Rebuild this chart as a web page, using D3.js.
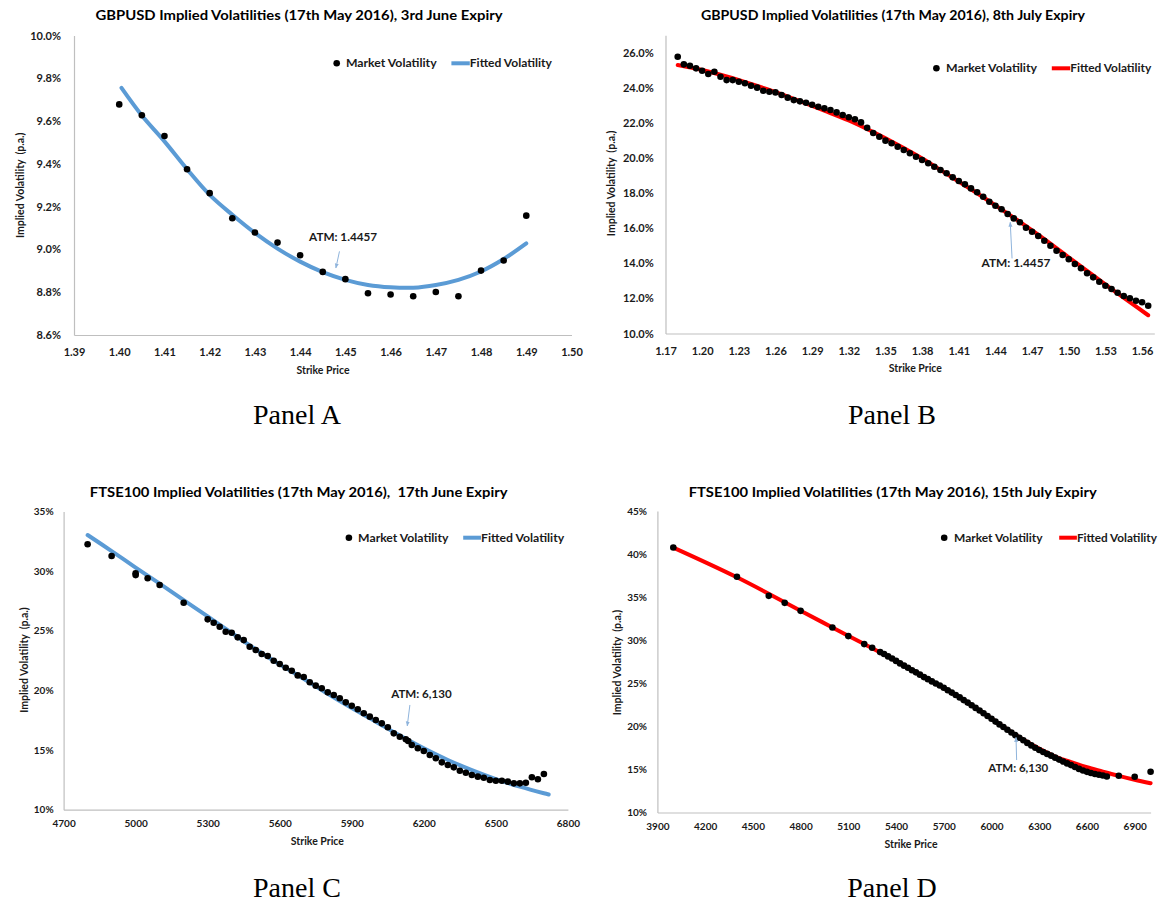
<!DOCTYPE html>
<html>
<head>
<meta charset="utf-8">
<script src="https://cdn.jsdelivr.net/npm/d3@7"></script>
<style>
  body { margin: 0; background: #fff; }
  text { font-family: Lato, "Open Sans", sans-serif; }
</style>
</head>
<body>
<svg id="chart" width="1158" height="902"></svg>
<script>
// ---- Panel A : GBPUSD, 3rd June expiry ----
const strikeA = [1.400, 1.405, 1.410, 1.415, 1.420, 1.425, 1.430, 1.435, 1.440, 1.445,
  1.450, 1.455, 1.460, 1.465, 1.470, 1.475, 1.480, 1.485, 1.490];
const marketA = [9.678, 9.627, 9.530, 9.375, 9.263, 9.146, 9.079, 9.032, 8.973, 8.895,
  8.861, 8.795, 8.789, 8.781, 8.801, 8.781, 8.901, 8.948, 9.158];
const fitStrikeA = [1.4005, 1.405, 1.410, 1.415, 1.420, 1.425, 1.430, 1.435, 1.440, 1.445,
  1.450, 1.455, 1.460, 1.465, 1.470, 1.475, 1.480, 1.485, 1.490];
const fitA = [9.755, 9.626, 9.505, 9.375, 9.255, 9.162, 9.077, 9.004, 8.943, 8.894,
  8.858, 8.834, 8.823, 8.821, 8.834, 8.858, 8.897, 8.955, 9.028];
const xTicksA = [1.39, 1.40, 1.41, 1.42, 1.43, 1.44, 1.45, 1.46, 1.47, 1.48, 1.49, 1.50];
const yTicksA = [8.6, 8.8, 9.0, 9.2, 9.4, 9.6, 9.8, 10.0];

// ---- Panel B : GBPUSD, 8th July expiry ----
const strikeB = [1.180, 1.185, 1.190, 1.195, 1.200, 1.205, 1.210, 1.215, 1.220, 1.225,
  1.230, 1.235, 1.240, 1.245, 1.250, 1.255, 1.260, 1.265, 1.270, 1.275,
  1.280, 1.285, 1.290, 1.295, 1.300, 1.305, 1.310, 1.315, 1.320, 1.325,
  1.330, 1.335, 1.340, 1.345, 1.350, 1.355, 1.360, 1.365, 1.370, 1.375,
  1.380, 1.385, 1.390, 1.395, 1.400, 1.405, 1.410, 1.415, 1.420, 1.425,
  1.430, 1.435, 1.440, 1.445, 1.450, 1.455, 1.460, 1.465, 1.470, 1.475,
  1.480, 1.485, 1.490, 1.495, 1.500, 1.505, 1.510, 1.515, 1.520, 1.525,
  1.530, 1.535, 1.540, 1.545, 1.550, 1.555, 1.560, 1.565];
const marketB = [25.77, 25.34, 25.26, 25.11, 24.97, 24.79, 24.92, 24.63, 24.44, 24.44,
  24.35, 24.26, 24.12, 24.01, 23.83, 23.78, 23.74, 23.59, 23.44, 23.30,
  23.23, 23.15, 23.04, 22.92, 22.83, 22.74, 22.60, 22.45, 22.32, 22.21,
  22.03, 21.72, 21.43, 21.21, 20.99, 20.84, 20.64, 20.46, 20.27, 20.07,
  19.89, 19.70, 19.50, 19.32, 19.13, 18.90, 18.69, 18.50, 18.27, 18.05,
  17.79, 17.51, 17.28, 17.08, 16.81, 16.56, 16.34, 16.03, 15.80, 15.56,
  15.29, 15.00, 14.72, 14.47, 14.23, 13.96, 13.72, 13.43, 13.20, 12.95,
  12.72, 12.54, 12.32, 12.14, 12.01, 11.87, 11.78, 11.58];
const fitStrikeB = [1.18, 1.20, 1.22, 1.24, 1.26, 1.28, 1.30, 1.32, 1.34, 1.36,
  1.38, 1.40, 1.42, 1.44, 1.46, 1.48, 1.50, 1.52, 1.54, 1.565];
const fitB = [25.30, 25.02, 24.65, 24.22, 23.76, 23.24, 22.70, 22.14, 21.48, 20.76,
  19.98, 19.10, 18.22, 17.30, 16.36, 15.38, 14.34, 13.31, 12.28, 11.04];
const xTicksB = [1.17, 1.20, 1.23, 1.26, 1.29, 1.32, 1.35, 1.38, 1.41, 1.44, 1.47, 1.50, 1.53, 1.56];
const yTicksB = [10, 12, 14, 16, 18, 20, 22, 24, 26];

// ---- Panel C : FTSE100, 17th June expiry ----
const strikeC = [4800, 4900, 5000, 5000, 5050, 5100, 5200, 5300, 5325, 5350,
  5375, 5400, 5425, 5450, 5475, 5500, 5525, 5550, 5575, 5600,
  5625, 5650, 5675, 5700, 5725, 5750, 5775, 5800, 5825, 5850,
  5875, 5900, 5925, 5950, 5975, 6000, 6025, 6050, 6075, 6100,
  6125, 6135, 6150, 6175, 6200, 6225, 6250, 6275, 6300, 6325,
  6350, 6375, 6400, 6425, 6450, 6475, 6500, 6525, 6550, 6575,
  6600, 6625, 6650, 6675, 6700];
const marketC = [32.25, 31.27, 29.82, 29.67, 29.40, 28.84, 27.35, 25.96, 25.67, 25.34,
  24.92, 24.84, 24.45, 24.22, 23.66, 23.39, 23.05, 22.88, 22.49, 22.21,
  21.90, 21.65, 21.26, 21.12, 20.68, 20.40, 20.18, 19.84, 19.61, 19.34,
  19.00, 18.72, 18.42, 18.08, 17.80, 17.52, 17.24, 16.91, 16.40, 16.12,
  15.90, 15.76, 15.42, 15.15, 14.92, 14.59, 14.31, 13.97, 13.75, 13.55,
  13.27, 13.10, 12.91, 12.77, 12.68, 12.49, 12.43, 12.43, 12.35, 12.21,
  12.21, 12.26, 12.72, 12.55, 12.99];
const fitStrikeC = [4800, 4900, 5000, 5100, 5200, 5300, 5400, 5500, 5600, 5700,
  5800, 5900, 6000, 6100, 6200, 6300, 6400, 6500, 6600, 6700, 6720];
const fitC = [33.03, 31.68, 30.30, 28.95, 27.57, 26.20, 24.82, 23.45, 22.18, 20.98,
  19.72, 18.52, 17.38, 16.22, 15.15, 14.17, 13.32, 12.57, 11.93, 11.38, 11.28];
const xTicksC = [4700, 5000, 5300, 5600, 5900, 6200, 6500, 6800];
const yTicksC = [10, 15, 20, 25, 30, 35];

// ---- Panel D : FTSE100, 15th July expiry ----
const strikeD = [4000, 4400, 4600, 4700, 4800, 5000, 5100, 5200, 5250,
  5300, 5325, 5350, 5375, 5400, 5425, 5450, 5475, 5500, 5525,
  5550, 5575, 5600, 5625, 5650, 5675, 5700, 5725, 5750, 5775,
  5800, 5825, 5850, 5875, 5900, 5925, 5950, 5975, 6000, 6025,
  6050, 6075, 6100, 6125, 6150, 6175, 6200, 6225, 6250, 6275,
  6300, 6325, 6350, 6375, 6400, 6425, 6450, 6475, 6500, 6525,
  6550, 6575, 6600, 6625, 6650, 6675, 6700, 6725,
  6800, 6900, 7000];
const marketD = [40.77, 37.36, 35.15, 34.34, 33.41, 31.48, 30.48, 29.55, 29.12,
  28.62, 28.40, 28.12, 27.88, 27.60, 27.31, 27.05, 26.80, 26.52, 26.27,
  26.00, 25.72, 25.48, 25.22, 24.98, 24.74, 24.48, 24.20, 23.92, 23.64,
  23.36, 23.05, 22.76, 22.45, 22.14, 21.84, 21.52, 21.20, 20.88, 20.55,
  20.23, 19.92, 19.60, 19.29, 18.98, 18.68, 18.38, 18.08, 17.79, 17.51,
  17.25, 17.02, 16.80, 16.60, 16.37, 16.14, 15.92, 15.70, 15.50, 15.28,
  15.06, 14.88, 14.72, 14.58, 14.47, 14.38, 14.30, 14.18,
  14.27, 14.15, 14.73];
const fitStrikeD = [4000, 4400, 4800, 5000, 5200, 5400, 5600, 5800, 6000, 6200,
  6400, 6500, 6600, 6700, 6800, 6900, 7000];
const fitD = [40.75, 37.30, 33.42, 31.48, 29.55, 27.60, 25.50, 23.36, 20.90, 18.44,
  16.50, 15.85, 15.25, 14.75, 14.25, 13.80, 13.40];
const xTicksD = [3900, 4200, 4500, 4800, 5100, 5400, 5700, 6000, 6300, 6600, 6900];
const yTicksD = [10, 15, 20, 25, 30, 35, 40, 45];

const BLUE = '#5b9bd5', RED = '#ff0000', ARROW = '#8fb4dc';

const panels = [
  {
    strikes: strikeA, market: marketA, fitStrikes: fitStrikeA, fit: fitA,
    xTicks: xTicksA, yTicks: yTicksA, color: BLUE,
    xDomain: [1.39, 1.50], xRange: [74, 571.5], yDomain: [8.6, 10.0], yRange: [335, 35.5],
    xFmt: d3.format('.2f'), yFmt: d => d.toFixed(1) + '%', tickFont: 11, xPad: 13.4, yPad: 13,
    title: 'GBPUSD Implied Volatilities (17th May 2016), 3rd June Expiry', tx: 299, ty: 15, tw: 407,
    leg: { y: 63.3, dot: 336.7, m: 345.9, mw: 90.7, l1: 451.4, l2: 469.8, f: 469.8, fw: 82 },
    xt: [323, 370], yt: [20, 185.3],
    atm: { label: 'ATM: 1.4457', lx: 1.4495, ly: 9.056, lw: 68, x0: 1.4487, y0: 8.991, x1: 1.4479, y1: 8.913 },
    name: 'Panel A', nx: 297, ny: 414
  },
  {
    strikes: strikeB, market: marketB, fitStrikes: fitStrikeB, fit: fitB,
    xTicks: xTicksB, yTicks: yTicksB, color: RED,
    xDomain: [1.17, 1.57], xRange: [665.5, 1154.3], yDomain: [10, 27], yRange: [333.5, 35.2],
    xFmt: d3.format('.2f'), yFmt: d => d.toFixed(1) + '%', tickFont: 11, xPad: 13.3, yPad: 11.8,
    title: 'GBPUSD Implied Volatilities (17th May 2016), 8th July Expiry', tx: 893, ty: 15, tw: 384,
    leg: { y: 68.3, dot: 936.4, m: 946, mw: 91, l1: 1051.8, l2: 1070.2, f: 1070.2, fw: 81 },
    xt: [915.4, 368.3], yt: [611.3, 183.4],
    atm: { label: 'ATM: 1.4457', lx: 1.4568, ly: 14.03, lw: 69, x0: 1.4536, y0: 14.28, x1: 1.4521, y1: 16.34 },
    name: 'Panel B', nx: 892, ny: 414
  },
  {
    strikes: strikeC, market: marketC, fitStrikes: fitStrikeC, fit: fitC,
    xTicks: xTicksC, yTicks: yTicksC, color: BLUE,
    xDomain: [4700, 6800], xRange: [63.6, 567.9], yDomain: [10, 35], yRange: [809.7, 511.5],
    xFmt: d3.format('d'), yFmt: d => d + '%', tickFont: 10, xPad: 10.7, yPad: 10,
    title: 'FTSE100 Implied Volatilities (17th May 2016),  17th June Expiry', tx: 298.7, ty: 491.7, tw: 417.7,
    leg: { y: 537.7, dot: 348.9, m: 358.1, mw: 90.3, l1: 463.2, l2: 481, f: 481, fw: 83.2 },
    xt: [317.4, 841], yt: [24, 660],
    atm: { label: 'ATM: 6,130', lx: 6190, ly: 19.66, lw: 60.5, x0: 6142, y0: 18.78, x1: 6131, y1: 17.02 },
    name: 'Panel C', nx: 297, ny: 887
  },
  {
    strikes: strikeD, market: marketD, fitStrikes: fitStrikeD, fit: fitD,
    xTicks: xTicksD, yTicks: yTicksD, color: RED,
    xDomain: [3900, 7000], xRange: [657.4, 1150.6], yDomain: [10, 45], yRange: [812.5, 511],
    xFmt: d3.format('d'), yFmt: d => d + '%', tickFont: 10, xPad: 10.6, yPad: 10.4,
    title: 'FTSE100 Implied Volatilities (17th May 2016), 15th July Expiry', tx: 892.7, ty: 491.7, tw: 408,
    leg: { y: 537.7, dot: 944.2, m: 954.1, mw: 88.5, l1: 1059.2, l2: 1076.9, f: 1076.9, fw: 80 },
    xt: [911, 844], yt: [616.9, 662.5],
    atm: { label: 'ATM: 6,130', lx: 6168, ly: 15.13, lw: 60, x0: 6158, y0: 16.09, x1: 6154, y1: 18.72 },
    name: 'Panel D', nx: 892, ny: 887
  }
];

const svg = d3.select('#chart');
svg.append('rect').attr('width', 1158).attr('height', 902).attr('fill', '#fff');

svg.append('defs').append('marker')
  .attr('id', 'head')
  .attr('viewBox', '0 0 10 10')
  .attr('refX', 9).attr('refY', 5)
  .attr('markerWidth', 5).attr('markerHeight', 5)
  .attr('orient', 'auto')
  .append('path').attr('d', 'M0,1L10,5L0,9Z').attr('fill', ARROW);

function styleAxis(g, p) {
  g.select('.domain').attr('stroke', '#bfbfbf').attr('stroke-width', 1.2);
  g.selectAll('text')
    .attr('font-weight', 'bold')
    .attr('font-size', p.tickFont)
    .attr('fill', '#1a1a1a');
}

function drawPanel(p) {
  const x = d3.scaleLinear().domain(p.xDomain).range(p.xRange);
  const y = d3.scaleLinear().domain(p.yDomain).range(p.yRange);
  const g = svg.append('g');

  g.append('g')
    .attr('transform', `translate(0,${p.yRange[0]})`)
    .call(d3.axisBottom(x).tickValues(p.xTicks).tickFormat(p.xFmt).tickSize(0).tickSizeOuter(0).tickPadding(p.xPad))
    .call(a => styleAxis(a, p));

  g.append('g')
    .attr('transform', `translate(${p.xRange[0]},0)`)
    .call(d3.axisLeft(y).tickValues(p.yTicks).tickFormat(p.yFmt).tickSize(0).tickSizeOuter(0).tickPadding(p.yPad))
    .call(a => styleAxis(a, p));

  // fitted curve, smoothed like Excel's smoothed line
  const line = d3.line()
    .x((d, i) => x(p.fitStrikes[i]))
    .y(d => y(d))
    .curve(d3.curveCatmullRom.alpha(0.5));
  g.append('path')
    .datum(p.fit)
    .attr('d', line)
    .attr('fill', 'none')
    .attr('stroke', p.color)
    .attr('stroke-width', 4)
    .attr('stroke-linecap', 'round');

  // market points
  g.append('g')
    .selectAll('circle')
    .data(p.market)
    .join('circle')
    .attr('cx', (d, i) => x(p.strikes[i]))
    .attr('cy', d => y(d))
    .attr('r', 3.3)
    .attr('fill', '#000');

  // ATM annotation
  const a = p.atm;
  g.append('line')
    .attr('x1', x(a.x0)).attr('y1', y(a.y0))
    .attr('x2', x(a.x1)).attr('y2', y(a.y1))
    .attr('stroke', ARROW).attr('stroke-width', 1)
    .attr('marker-end', 'url(#head)');
  g.append('text')
    .attr('x', x(a.lx)).attr('y', y(a.ly)).attr('dy', '0.36em')
    .attr('text-anchor', 'middle')
    .attr('font-size', 11).attr('font-weight', 'bold').attr('fill', '#1a1a1a')
    .attr('textLength', a.lw).attr('lengthAdjust', 'spacingAndGlyphs')
    .text(a.label);

  // title
  g.append('text')
    .attr('x', p.tx).attr('y', p.ty).attr('dy', '0.36em')
    .attr('text-anchor', 'middle')
    .attr('font-size', 13.5).attr('font-weight', 'bold').attr('fill', '#000')
    .attr('textLength', p.tw).attr('lengthAdjust', 'spacingAndGlyphs')
    .style('white-space', 'pre')
    .text(p.title);

  // legend
  const L = p.leg;
  g.append('circle').attr('cx', L.dot).attr('cy', L.y).attr('r', 3.3).attr('fill', '#000');
  g.append('text').attr('x', L.m).attr('y', L.y).attr('dy', '0.36em')
    .attr('font-size', 11).attr('font-weight', 'bold').attr('fill', '#1a1a1a')
    .attr('textLength', L.mw).attr('lengthAdjust', 'spacingAndGlyphs')
    .text('Market Volatility');
  g.append('line').attr('x1', L.l1).attr('x2', L.l2).attr('y1', L.y).attr('y2', L.y)
    .attr('stroke', p.color).attr('stroke-width', 4);
  g.append('text').attr('x', L.f).attr('y', L.y).attr('dy', '0.36em')
    .attr('font-size', 11).attr('font-weight', 'bold').attr('fill', '#1a1a1a')
    .attr('textLength', L.fw).attr('lengthAdjust', 'spacingAndGlyphs')
    .text('Fitted Volatility');

  // axis titles
  g.append('text')
    .attr('x', p.xt[0]).attr('y', p.xt[1]).attr('dy', '0.36em')
    .attr('text-anchor', 'middle')
    .attr('font-size', 10.5).attr('font-weight', 'bold').attr('fill', '#1a1a1a')
    .text('Strike Price');
  g.append('text')
    .attr('transform', `translate(${p.yt[0]},${p.yt[1]}) rotate(-90)`)
    .attr('dy', '0.36em')
    .attr('text-anchor', 'middle')
    .attr('font-size', 10.5).attr('font-weight', 'bold').attr('fill', '#1a1a1a')
    .style('white-space', 'pre')
    .text('Implied Volatility  (p.a.)');

  // panel caption (serif, like the document text)
  svg.append('text')
    .attr('x', p.nx).attr('y', p.ny).attr('dy', '0.36em')
    .attr('text-anchor', 'middle')
    .style('font-family', '"Liberation Serif", "DejaVu Serif", serif')
    .attr('font-size', 28).attr('fill', '#000')
    .text(p.name);
}

panels.forEach(drawPanel);
</script>
</body>
</html>
